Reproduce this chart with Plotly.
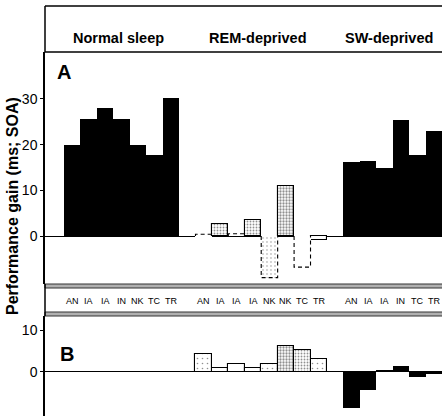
import plotly.graph_objects as go

W, H = 442, 416

# ---------------- data ----------------
group_titles = ["Normal sleep", "REM-deprived", "SW-deprived"]
norm_labels = ["AN", "IA", "IA", "IN", "NK", "TC", "TR"]
rem_labels = ["AN", "IA", "IA", "IA", "NK", "NK", "TC", "TR"]
sw_labels = ["AN", "IA", "IA", "IN", "TC", "TR"]

norm_pos = [0, 1, 2, 3, 4, 5, 6]
rem_pos = [8, 9, 10, 11, 12, 13, 14, 15]
sw_pos = [17, 18, 19, 20, 21, 22]

# Panel A
normal_A = [20.0, 25.7, 28.1, 25.7, 20.0, 17.7, 30.3]
rem_A = [0.4, 2.6, 0.5, 3.5, -9.1, 11.0, -6.8, -0.9]
sw_A = [16.2, 16.4, 14.8, 25.4, 17.7, 23.0]

# Panel B
rem_B = [4.2, 0.8, 1.8, 1.0, 1.8, 6.2, 5.2, 3.0]
sw_B = [-8.6, -4.4, 0.5, 1.4, -1.2, -0.6]

# bar fill styles
rem_A_style = ["dash", "stipple", "dash", "stipple", "dashstipple", "dense", "dash", "open"]
rem_B_style = ["light", "open", "open", "open", "light", "dense", "medium", "light"]

FONT = "Liberation Sans, Arial, Helvetica, sans-serif"

STYLE = {
    "open": dict(shape="", solidity=0.0, size=4),
    "dash": dict(shape="", solidity=0.0, size=4),
    "light": dict(shape=".", solidity=0.08, size=5),
    "stipple": dict(shape=".", solidity=0.3, size=3),
    "dashstipple": dict(shape=".", solidity=0.1, size=4),
    "medium": dict(shape=".", solidity=0.3, size=3),
    "dense": dict(shape=".", solidity=0.45, size=3),
}

fig = go.Figure()


def add_black(xs, ys, xa, ya):
    fig.add_trace(go.Bar(x=xs, y=ys, width=1, marker=dict(color="black", line=dict(width=0)),
                         xaxis=xa, yaxis=ya, showlegend=False, hoverinfo="skip"))


def add_styled(xs, ys, styles, xa, ya):
    for st in STYLE:
        sx = [x for x, s in zip(xs, styles) if s == st]
        sy = [y for y, s in zip(ys, styles) if s == st]
        if not sx:
            continue
        dashed = st.startswith("dash")
        p = STYLE[st]
        fig.add_trace(go.Bar(
            x=sx, y=sy, width=1,
            marker=dict(color="white",
                        line=dict(width=0 if dashed else 1.1, color="black"),
                        pattern=dict(shape=p["shape"], fgcolor="#222", bgcolor="white",
                                     solidity=p["solidity"], size=p["size"])),
            xaxis=xa, yaxis=ya, showlegend=False, hoverinfo="skip"))
        if dashed:
            for x, y in zip(sx, sy):
                fig.add_trace(go.Scatter(
                    x=[x - 0.5, x - 0.5, x + 0.5, x + 0.5], y=[0, y, y, 0],
                    mode="lines", line=dict(color="black", width=1.1, dash="4px,3px"),
                    xaxis=xa, yaxis=ya, showlegend=False, hoverinfo="skip"))


# Panel A
add_black(norm_pos, normal_A, "x", "y")
add_styled(rem_pos, rem_A, rem_A_style, "x", "y")
add_black(sw_pos, sw_A, "x", "y")
# Panel B
add_styled(rem_pos, rem_B, rem_B_style, "x2", "y2")
add_black(sw_pos, sw_B, "x2", "y2")


def py(px):
    return 1 - px / H


def pxx(px):
    return px / W


XL = 45
xrange_ = [-1.656, 22.5]
axis_common = dict(showline=True, linecolor="black", linewidth=1.5, ticks="outside", ticklen=3,
                   tickwidth=1.2, tickcolor="black", showgrid=False, zeroline=True,
                   zerolinecolor="black", zerolinewidth=1.2,
                   tickfont=dict(family=FONT, size=14, color="black"))

fig.update_layout(
    width=W, height=H, margin=dict(l=0, r=0, t=0, b=0),
    paper_bgcolor="white", plot_bgcolor="white",
    barmode="overlay", bargap=0,
    xaxis=dict(domain=[pxx(XL), 1], range=xrange_, visible=False, anchor="y"),
    yaxis=dict(domain=[py(284), py(52)], range=[-10.5, 40.26], tickvals=[0, 10, 20, 30],
               anchor="x", **axis_common),
    xaxis2=dict(domain=[pxx(XL), 1], range=xrange_, visible=False, anchor="y2"),
    yaxis2=dict(domain=[0, py(316)], range=[-10.62, 13.36], tickvals=[0, 10],
                anchor="x2", **axis_common),
)

shapes = []
line = dict(color="black", width=1.5)
# header box
shapes.append(dict(type="line", xref="paper", yref="paper", x0=pxx(XL), x1=1, y0=py(6), y1=py(6), line=line))
shapes.append(dict(type="line", xref="paper", yref="paper", x0=pxx(XL), x1=1, y0=py(52), y1=py(52), line=line))
shapes.append(dict(type="line", xref="paper", yref="paper", x0=pxx(XL), x1=pxx(XL), y0=py(6), y1=py(52), line=line))
# double-line bands around category labels
for top in (284, 312):
    shapes.append(dict(type="rect", xref="paper", yref="paper", x0=pxx(XL), x1=1.01,
                       y0=py(top + 4), y1=py(top), fillcolor="#b0b0b0",
                       line=dict(color="#333", width=1)))
shapes.append(dict(type="line", xref="paper", yref="paper", x0=pxx(XL), x1=pxx(XL), y0=py(284), y1=py(316), line=line))
fig.update_layout(shapes=shapes)

ann = []
C = dict(showarrow=False, xanchor="center", yanchor="middle")
groups = [(norm_pos, norm_labels), (rem_pos, rem_labels), (sw_pos, sw_labels)]
for title, (pos, labels) in zip(group_titles, groups):
    cx = sum(pos) / len(pos) - 0.2
    ann.append(dict(x=cx, xref="x", y=py(38), yref="paper", text="<b>%s</b>" % title,
                    font=dict(family=FONT, size=14.5, color="black"), **C))
    for p, lab in zip(pos, labels):
        ann.append(dict(x=p, xref="x", y=py(300.5), yref="paper", text=lab,
                        font=dict(family=FONT, size=9, color="black"), **C))

ann.append(dict(x=pxx(64), xref="paper", y=py(71.5), yref="paper", text="<b>A</b>",
                font=dict(family=FONT, size=20, color="black"), **C))
ann.append(dict(x=pxx(67), xref="paper", y=py(354), yref="paper", text="<b>B</b>",
                font=dict(family=FONT, size=20, color="black"), **C))
ann.append(dict(x=pxx(12), xref="paper", y=py(206), yref="paper", text="<b>Performance gain (ms; SOA)</b>",
                textangle=-90, font=dict(family=FONT, size=16, color="black"), **C))
fig.update_layout(annotations=ann)

fig.write_html(
    "out.html",
    config={"displayModeBar": False},
    post_script="document.documentElement.style.margin='0';document.body.style.margin='0';"
                "document.body.style.overflow='hidden';document.documentElement.style.overflow='hidden';",
)
